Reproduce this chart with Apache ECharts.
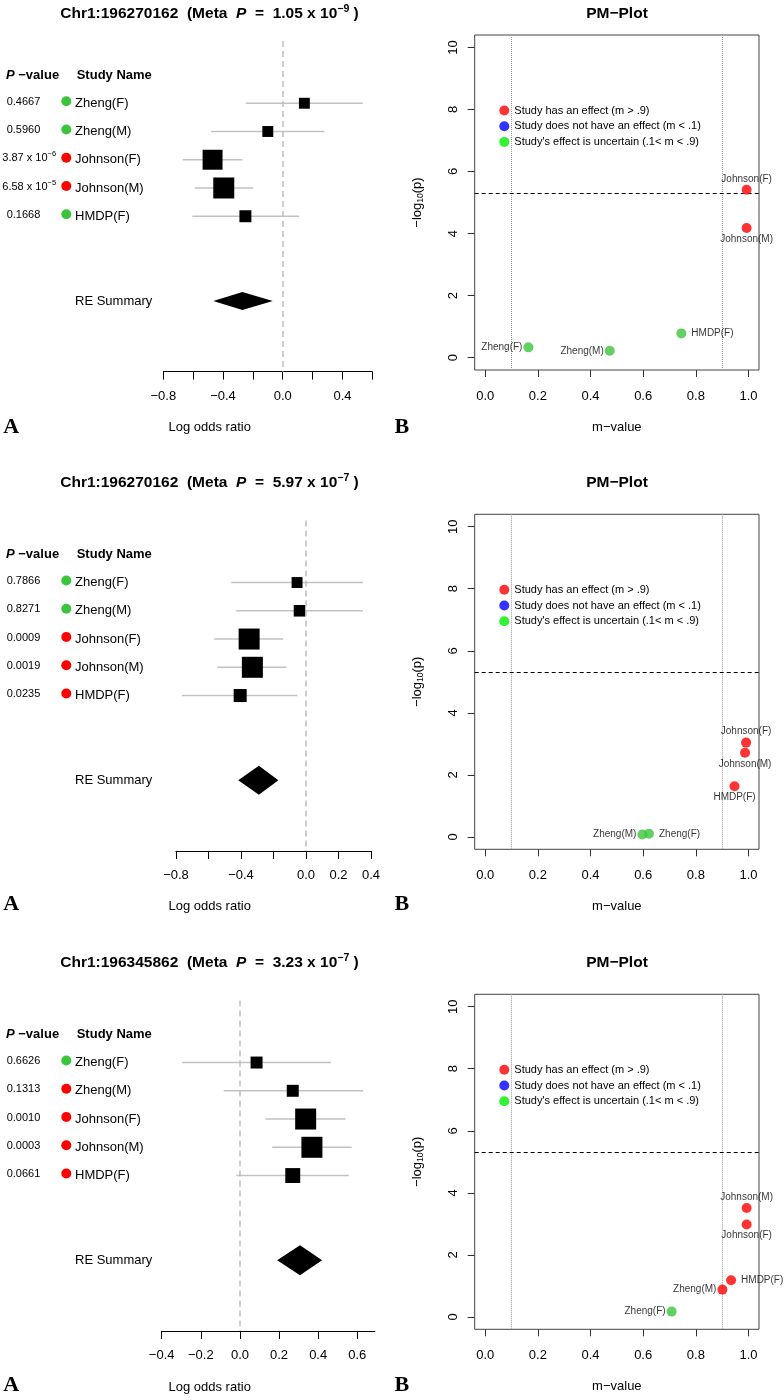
<!DOCTYPE html>
<html><head><meta charset="utf-8">
<script src="https://cdn.jsdelivr.net/npm/echarts@6/dist/echarts.min.js"></script>
<style>html,body{margin:0;padding:0;background:#fff}#c{width:784px;height:1400px}</style>
</head><body><div id="c"></div>
<script>
// ================= DATA =================
const studies = ['Zheng(F)', 'Zheng(M)', 'Johnson(F)', 'Johnson(M)', 'HMDP(F)'];

// Panel 1
const snp1 = 'Chr1:196270162';
const metaP1 = ['1.05', '-9'];
const pvals1 = ['0.4667', '0.5960', '3.87e-6', '6.58e-5', '0.1668'];
const est1 = [0.145, -0.10, -0.47, -0.395, -0.25];
const lo1 = [-0.248, -0.48, -0.67, -0.59, -0.605];
const hi1 = [0.536, 0.279, -0.27, -0.197, 0.11];
const weight1 = [0.52, 0.52, 0.95, 1.0, 0.57];
const summary1 = [-0.27, -0.465, -0.067];
const mval1 = [0.164, 0.473, 0.993, 0.993, 0.745];
const logp1 = [0.33, 0.22, 5.41, 4.18, 0.78];
const forestTicks1 = [-0.8, -0.6, -0.4, -0.2, 0, 0.2, 0.4, 0.6];
const forestLabels1 = [-0.8, -0.4, 0, 0.4];
const forestRange1 = [-0.8, 0.6];

// Panel 2
const snp2 = 'Chr1:196270162';
const metaP2 = ['5.97', '-7'];
const pvals2 = ['0.7866', '0.8271', '0.0009', '0.0019', '0.0235'];
const est2 = [-0.055, -0.04, -0.35, -0.33, -0.405];
const lo2 = [-0.46, -0.43, -0.565, -0.546, -0.763];
const hi2 = [0.35, 0.35, -0.14, -0.12, -0.053];
const weight2 = [0.52, 0.55, 1.0, 1.0, 0.62];
const summary2 = [-0.29, -0.417, -0.17];
const mval2 = [0.622, 0.597, 0.991, 0.987, 0.947];
const logp2 = [0.10, 0.08, 3.04, 2.71, 1.63];
const forestTicks2 = [-0.8, -0.6, -0.4, -0.2, 0, 0.2, 0.4];
const forestLabels2 = [-0.8, -0.4, 0, 0.2, 0.4];
const forestRange2 = [-0.8, 0.4];

// Panel 3
const snp3 = 'Chr1:196345862';
const metaP3 = ['3.23', '-7'];
const pvals3 = ['0.6626', '0.1313', '0.0010', '0.0003', '0.0661'];
const est3 = [0.085, 0.27, 0.336, 0.368, 0.27];
const lo3 = [-0.295, -0.083, 0.131, 0.165, -0.019];
const hi3 = [0.465, 0.63, 0.54, 0.571, 0.556];
const weight3 = [0.57, 0.57, 1.0, 1.0, 0.71];
const summary3 = [0.307, 0.19, 0.42];
const mval3 = [0.708, 0.901, 0.993, 0.993, 0.934];
const logp3 = [0.17, 0.88, 2.98, 3.51, 1.18];
const forestTicks3 = [-0.4, -0.2, 0, 0.2, 0.4, 0.6];
const forestLabels3 = [-0.4, -0.2, 0, 0.2, 0.4, 0.6];
const forestRange3 = [-0.4, 0.69];

// PM-plot axes and reference lines
const pmXTicks = [0, 0.2, 0.4, 0.6, 0.8, 1.0];
const pmYTicks = [0, 2, 4, 6, 8, 10];
const pmXRange = [-0.04, 1.04];
const pmYRange = [-0.4, 10.4];
const mLow = 0.1, mHigh = 0.9, pmThreshold = 5.3;
const legendNames = ['Study has an effect (m > .9)', 'Study does not have an effect (m < .1)', "Study's effect is uncertain (.1< m < .9)"];

// label placement around PM points (style)
const pmLabelPos1 = ['left', 'left', 'top', 'bottom', 'right'];
const pmLabelPos2 = ['right', 'left', 'top', 'bottom', 'bottom'];
const pmLabelPos3 = ['left', 'left', 'bottom', 'top', 'right'];

// ================= STYLE / LAYOUT =================
const FONT = "'Liberation Sans', Arial, Helvetica, sans-serif";
const SERIF = "'Liberation Serif', 'Times New Roman', serif";
const RED = '#ff0000', BLUE = '#0000ff', GREEN = '#3cc43c';
const LEG_COLORS = [RED, BLUE, '#00ee00'];
const MINUS = '\u2212';
const BOX_MAX = 21;
const HEADER_ROW = 0, SUMMARY_ROW = 8;
const ROW_RANGE = [-1.2, 10.5];
const F_HEIGHT = 330.5;
const PM_LEFT = 474.7, PM_WIDTH = 284.3, PM_HEIGHT = 335;

const layout = [
  { fLeft: 163.3, fWidth: 209, fTop: 41.1, pmTop: 35, titleY: 14, letterY: 427, xNameY: 427, diamondH: 18 },
  { fLeft: 176, fWidth: 195, fTop: 520.4, pmTop: 514.3, titleY: 482.4, letterY: 904, xNameY: 906.5, diamondH: 29 },
  { fLeft: 161.7, fWidth: 213.2, fTop: 1000.4, pmTop: 994.3, titleY: 962.8, letterY: 1385.3, xNameY: 1387, diamondH: 30 }
];

const panels = [
  { snp: snp1, metaP: metaP1, pv: pvals1, est: est1, lo: lo1, hi: hi1, w: weight1, sum: summary1, m: mval1, lp: logp1, ticks: forestTicks1, labels: forestLabels1, range: forestRange1, pos: pmLabelPos1 },
  { snp: snp2, metaP: metaP2, pv: pvals2, est: est2, lo: lo2, hi: hi2, w: weight2, sum: summary2, m: mval2, lp: logp2, ticks: forestTicks2, labels: forestLabels2, range: forestRange2, pos: pmLabelPos2 },
  { snp: snp3, metaP: metaP3, pv: pvals3, est: est3, lo: lo3, hi: hi3, w: weight3, sum: summary3, m: mval3, lp: logp3, ticks: forestTicks3, labels: forestLabels3, range: forestRange3, pos: pmLabelPos3 }
];

function mColor(m) { return m > mHigh ? RED : (m < mLow ? BLUE : GREEN); }
function fmtTick(v) { return (v < 0 ? MINUS : '') + Math.abs(v).toFixed(1); }
const labelDist = { top: 1, bottom: 1, left: 1, right: 5 };

function txt(x, y, text, font, align, extra) {
  const st = Object.assign({ text: text, font: font, fill: '#000', align: align || 'left', textAlign: align || 'left', verticalAlign: 'middle', textVerticalAlign: 'middle' }, extra || {});
  return { type: 'text', x: x, y: y, silent: true, style: st };
}

const grids = [], xAxes = [], yAxes = [], series = [], graphics = [], legends = [];

panels.forEach(function (P, i) {
  const L = layout[i];
  const fg = 2 * i, pg = 2 * i + 1;

  // ---------- Forest grid ----------
  grids.push({ left: L.fLeft, top: L.fTop, width: L.fWidth, height: F_HEIGHT, show: false, outerBoundsMode: 'none', containLabel: false });
  xAxes.push({
    gridIndex: fg, type: 'value', min: P.range[0], max: P.range[1],
    axisLine: { show: true, onZero: false, lineStyle: { color: '#000', width: 1 } },
    axisTick: { show: true, inside: false, length: 8, customValues: P.ticks, lineStyle: { color: '#000', width: 1 } },
    axisLabel: { show: true, customValues: P.labels, margin: 18, fontSize: 13, color: '#000', fontFamily: FONT, formatter: fmtTick },
    splitLine: { show: false }
  });
  yAxes.push({ gridIndex: fg, type: 'value', min: ROW_RANGE[0], max: ROW_RANGE[1], inverse: true, show: false, splitLine: { show: false } });

  // header + summary label + zero line
  series.push({
    type: 'custom', xAxisIndex: fg, yAxisIndex: fg, silent: true, z: 1,
    data: [[0, HEADER_ROW], [0, SUMMARY_ROW]],
    renderItem: function (params, api) {
      const y = api.coord([0, api.value(1)])[1];
      if (params.dataIndex === 0) {
        return { type: 'group', children: [
          { type: 'text', x: 6, y: y, style: { text: '{bi|P}{b| \u2212value}', align: 'left', verticalAlign: 'middle',
            rich: { bi: { fontSize: 13, fontWeight: 'bold', fontStyle: 'italic', fontFamily: FONT, fill: '#000' },
                    b: { fontSize: 13, fontWeight: 'bold', fontFamily: FONT, fill: '#000' } } } },
          { type: 'text', x: 76.7, y: y, style: { text: 'Study Name', font: 'bold 13px ' + FONT, fill: '#000', align: 'left', verticalAlign: 'middle' } }
        ] };
      }
      return { type: 'text', x: 75, y: y, style: { text: 'RE Summary', font: '13px ' + FONT, fill: '#000', align: 'left', verticalAlign: 'middle' } };
    },
    markLine: { silent: true, symbol: ['none', 'none'], label: { show: false }, animation: false,
      lineStyle: { color: '#bdbdbd', type: [6, 4], width: 1.5 }, data: [{ xAxis: 0 }] }
  });

  // study labels
  series.push({
    type: 'custom', xAxisIndex: fg, yAxisIndex: fg, silent: true, z: 2,
    data: studies.map(function (s, j) { return [0, j + 1]; }),
    renderItem: function (params, api) {
      const j = params.dataIndex;
      const y = api.coord([0, api.value(1)])[1];
      const p = P.pv[j];
      let t, px;
      if (p.indexOf('e') >= 0) {
        const parts = p.split('e');
        t = '{n|' + parts[0] + ' x 10}{s|' + parts[1].replace('-', MINUS) + '}';
        px = 2.3;
      } else { t = '{n|' + p + '}'; px = 6.7; }
      return { type: 'group', children: [
        { type: 'text', x: px, y: y - 1.5, style: { text: t, align: 'left', verticalAlign: 'middle',
          rich: { n: { fontSize: 11, fontFamily: FONT, fill: '#000', lineHeight: 16 },
                  s: { fontSize: 7.5, fontFamily: FONT, fill: '#000', lineHeight: 8, verticalAlign: 'top' } } } },
        { type: 'circle', shape: { cx: 66.3, cy: y - 2, r: 5 }, style: { fill: mColor(P.m[j]) } },
        { type: 'text', x: 75, y: y, style: { text: studies[j], font: '13px ' + FONT, fill: '#000', align: 'left', verticalAlign: 'middle' } }
      ] };
    }
  });

  // CI lines + boxes
  series.push({
    type: 'custom', xAxisIndex: fg, yAxisIndex: fg, silent: true, z: 3,
    encode: { x: [0, 1, 2], y: 3 },
    data: studies.map(function (s, j) { return [P.est[j], P.lo[j], P.hi[j], j + 1, P.w[j]]; }),
    renderItem: function (params, api) {
      const row = api.value(3);
      const c = api.coord([api.value(0), row]);
      const l = api.coord([api.value(1), row]);
      const h = api.coord([api.value(2), row]);
      const s = BOX_MAX * api.value(4);
      return { type: 'group', children: [
        { type: 'line', shape: { x1: l[0], y1: c[1], x2: h[0], y2: c[1] }, style: { stroke: '#c2c2c2', lineWidth: 1.6 } },
        { type: 'rect', shape: { x: c[0] - s / 2, y: c[1] - s / 2, width: s, height: s }, style: { fill: '#000' } }
      ] };
    }
  });

  // summary diamond
  series.push({
    type: 'custom', xAxisIndex: fg, yAxisIndex: fg, silent: true, z: 3,
    encode: { x: [0, 1, 2], y: 3 },
    data: [[P.sum[0], P.sum[1], P.sum[2], SUMMARY_ROW]],
    renderItem: function (params, api) {
      const row = api.value(3);
      const c = api.coord([api.value(0), row]);
      const l = api.coord([api.value(1), row]);
      const h = api.coord([api.value(2), row]);
      const H = L.diamondH / 2;
      return { type: 'polygon', shape: { points: [[l[0], c[1]], [c[0], c[1] - H], [h[0], c[1]], [c[0], c[1] + H]] }, style: { fill: '#000' } };
    }
  });

  // ---------- PM grid ----------
  grids.push({ left: PM_LEFT, top: L.pmTop, width: PM_WIDTH, height: PM_HEIGHT, show: true, borderColor: '#444', borderWidth: 1, backgroundColor: 'rgba(0,0,0,0)', outerBoundsMode: 'none', containLabel: false });
  xAxes.push({
    gridIndex: pg, type: 'value', min: pmXRange[0], max: pmXRange[1], position: 'bottom',
    axisLine: { show: false, onZero: false },
    axisTick: { show: true, inside: false, length: 7, customValues: pmXTicks, lineStyle: { color: '#333' } },
    axisLabel: { show: true, customValues: pmXTicks, margin: 20, fontSize: 13, color: '#000', fontFamily: FONT, formatter: function (v) { return v.toFixed(1); } },
    splitLine: { show: false },
    name: 'm\u2212value', nameLocation: 'middle', nameGap: 51, nameMoveOverlap: false,
    nameTextStyle: { fontSize: 13, color: '#000', fontFamily: FONT }
  });
  yAxes.push({
    gridIndex: pg, type: 'value', min: pmYRange[0], max: pmYRange[1], position: 'left',
    axisLine: { show: false, onZero: false },
    axisTick: { show: true, inside: false, length: 7, customValues: pmYTicks, lineStyle: { color: '#333' } },
    axisLabel: { show: true, customValues: pmYTicks, rotate: 90, margin: 15, fontSize: 13, color: '#000', fontFamily: FONT },
    splitLine: { show: false },
    name: MINUS + 'log{sub|10}(p)', nameLocation: 'middle', nameGap: 50, nameRotate: 90, nameMoveOverlap: false,
    nameTextStyle: { fontSize: 13, color: '#000', fontFamily: FONT, lineHeight: 15,
      rich: { sub: { fontSize: 8.5, fontFamily: FONT, color: '#000', verticalAlign: 'bottom', lineHeight: 9 } } }
  });

  // reference lines
  series.push({
    type: 'scatter', xAxisIndex: pg, yAxisIndex: pg, silent: true, z: 1, data: [],
    markLine: { silent: true, symbol: ['none', 'none'], label: { show: false }, animation: false,
      data: [
        { xAxis: mLow, lineStyle: { color: '#9a9a9a', type: 'dotted', width: 1 } },
        { xAxis: mHigh, lineStyle: { color: '#9a9a9a', type: 'dotted', width: 1 } },
        { yAxis: pmThreshold, lineStyle: { color: '#000', type: [4, 3], width: 1 } }
      ] }
  });

  // PM points
  series.push({
    type: 'scatter', xAxisIndex: pg, yAxisIndex: pg, silent: true, z: 5,
    symbol: 'circle', symbolSize: 10,
    label: { show: true, formatter: '{b}', fontSize: 10, color: '#000', fontFamily: FONT },
    data: studies.map(function (s, j) {
      return { name: s, value: [P.m[j], P.lp[j]], itemStyle: { color: mColor(P.m[j]) },
        label: { position: P.pos[j], distance: labelDist[P.pos[j]] } };
    })
  });

  legends.push({
    orient: 'vertical', left: 499.3, top: L.pmTop + 69.5, padding: 0, itemGap: 3.7,
    itemWidth: 10, itemHeight: 10, selectedMode: false,
    textStyle: { fontSize: 11, lineHeight: 12, color: '#000', fontFamily: FONT },
    data: legendNames.map(function (n) { return { name: n, icon: 'circle' }; })
  });

  // titles & letters
  const titleRich = {
    b: { fontSize: 15.5, fontWeight: 'bold', fontFamily: FONT, fill: '#000', lineHeight: 20 },
    bi: { fontSize: 15.5, fontWeight: 'bold', fontStyle: 'italic', fontFamily: FONT, fill: '#000', lineHeight: 20 },
    s: { fontSize: 10.5, fontWeight: 'bold', fontFamily: FONT, fill: '#000', lineHeight: 11, verticalAlign: 'top' }
  };
  graphics.push(txt(209.5, L.titleY,
    '{b|' + P.snp + '  (Meta  }{bi|P}{b|  =  ' + P.metaP[0] + ' x 10}{s|' + P.metaP[1].replace('-', MINUS) + '}{b| )}',
    null, 'center', { rich: titleRich }));
  graphics.push(txt(617, L.titleY, 'PM\u2212Plot', 'bold 15.5px ' + FONT, 'center'));
  graphics.push(txt(209.7, L.xNameY, 'Log odds ratio', '13px ' + FONT, 'center'));
  graphics.push(txt(3.3, L.letterY, 'A', 'bold 22px ' + SERIF, 'left'));
  graphics.push(txt(394.5, L.letterY, 'B', 'bold 22px ' + SERIF, 'left'));
});

// legend proxy series (colour keys)
legendNames.forEach(function (n, k) {
  series.push({ type: 'scatter', name: n, xAxisIndex: 1, yAxisIndex: 1, data: [], itemStyle: { color: LEG_COLORS[k] } });
});

const chart = echarts.init(document.getElementById('c'), null, { renderer: 'canvas', width: 784, height: 1400 });
chart.setOption({
  animation: false,
  backgroundColor: '#fff',
  textStyle: { fontFamily: FONT },
  grid: grids, xAxis: xAxes, yAxis: yAxes,
  legend: legends,
  series: series,
  graphic: { elements: graphics }
});
</script>
</body></html>
